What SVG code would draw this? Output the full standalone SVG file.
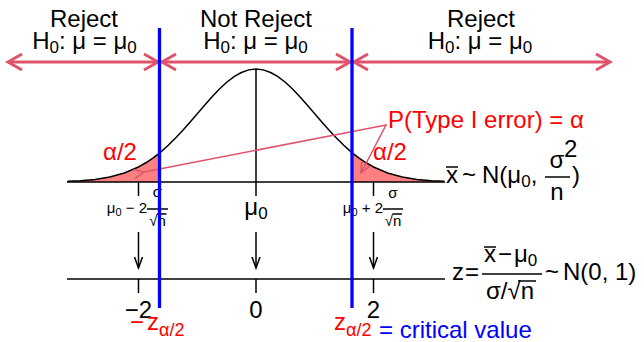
<svg xmlns="http://www.w3.org/2000/svg" width="644" height="342" viewBox="0 0 644 342">
<style>
text{font-family:"Liberation Sans",Arial,Helvetica,sans-serif;font-size:24px;fill:#000}
.red{fill:#FF0000}
.blu{fill:#0000FF}
.sm{font-size:15px}
.ln{stroke:#000;stroke-width:1.5;fill:none}
.arr{stroke:#DF536B;stroke-width:3;fill:none}
.ptr{stroke:#DF536B;stroke-width:1.5;fill:none}
.crit{stroke:#0000FF;stroke-width:3.3}
.tail{fill:#FF8080;stroke:none}
</style>
<defs>
<marker id="hBig" viewBox="-17 -10 20 20" refX="0" refY="0" markerWidth="20" markerHeight="20" markerUnits="userSpaceOnUse" orient="auto-start-reverse">
<path d="M-14,-8 L0,0 L-14,8" fill="none" stroke="#DF536B" stroke-width="3"/>
</marker>
<marker id="hPtr" viewBox="-12 -6 14 12" refX="0" refY="0" markerWidth="14" markerHeight="12" markerUnits="userSpaceOnUse" orient="auto">
<path d="M-10,-4.5 L0,0 L-10,4.5" fill="none" stroke="#DF536B" stroke-width="1.5"/>
</marker>
<marker id="hDown" viewBox="-12 -6 14 12" refX="0" refY="0" markerWidth="14" markerHeight="12" markerUnits="userSpaceOnUse" orient="auto">
<path d="M-11,-4 L0,0 L-11,4" fill="none" stroke="#000" stroke-width="1.5"/>
</marker>
</defs>

<g id="tails">
<path class="tail" d="M67.6,182 L67.6,181.37 L80.5,180.74 L95.12,179.42 L109.75,177.03 L124.37,173.01 L139,166.71 L146.31,162.52 L153.62,157.56 L159.5,152.2 L159.5,182 Z"/>
<path class="tail" d="M352,182 L352,152.6 L358.38,157.56 L365.69,162.52 L373,166.71 L387.63,173.01 L402.25,177.03 L416.88,179.42 L431.5,180.74 L444.4,181.37 L444.4,182 Z"/>
</g>

<g id="curve">
<path class="ln" stroke-linejoin="round" d="M67.6,181.37 L80.5,180.74 L95.12,179.42 L109.75,177.03 L124.37,173.01 L139,166.71 L146.31,162.52 L153.62,157.56 L160.94,151.82 L168.25,145.31 L175.56,138.09 L182.87,130.27 L190.19,121.99 L197.5,113.46 L204.81,104.94 L212.12,96.70 L219.44,89.05 L226.75,82.28 L234.06,76.67 L241.37,72.48 L248.69,69.88 L256,69 L263.31,69.88 L270.63,72.48 L277.94,76.67 L285.25,82.28 L292.56,89.05 L299.88,96.70 L307.19,104.94 L314.5,113.46 L321.81,121.99 L329.13,130.27 L336.44,138.09 L343.75,145.31 L351.06,151.82 L358.38,157.56 L365.69,162.52 L373,166.71 L387.63,173.01 L402.25,177.03 L416.88,179.42 L431.5,180.74 L444.4,181.37"/>
<line class="ln" x1="256" y1="69" x2="256" y2="182"/>
</g>

<g id="xbar-axis">
<line class="ln" x1="67" y1="182" x2="445" y2="182"/>
<line class="ln" x1="138.5" y1="182" x2="138.5" y2="196"/>
<line class="ln" x1="256" y1="182" x2="256" y2="196"/>
<line class="ln" x1="373.5" y1="182" x2="373.5" y2="196"/>
</g>

<g id="z-axis">
<line class="ln" x1="67" y1="279" x2="445" y2="279"/>
<line class="ln" x1="138.5" y1="279" x2="138.5" y2="293"/>
<line class="ln" x1="256" y1="279" x2="256" y2="293"/>
<line class="ln" x1="373.5" y1="279" x2="373.5" y2="293"/>
</g>

<g id="region-labels">
<text x="84" y="27" text-anchor="middle">Reject</text>
<text x="84.5" y="49" text-anchor="middle">H<tspan font-size="17" dy="4">0</tspan><tspan dy="-4">: μ = μ</tspan><tspan font-size="17" dy="4">0</tspan></text>
<text x="256" y="27" text-anchor="middle">Not Reject</text>
<text x="255.5" y="49" text-anchor="middle">H<tspan font-size="17" dy="4">0</tspan><tspan dy="-4">: μ = μ</tspan><tspan font-size="17" dy="4">0</tspan></text>
<text x="481" y="27" text-anchor="middle">Reject</text>
<text x="480" y="49" text-anchor="middle">H<tspan font-size="17" dy="4">0</tspan><tspan dy="-4">: μ = μ</tspan><tspan font-size="17" dy="4">0</tspan></text>
</g>

<g id="alpha-labels">
<text class="red" x="388" y="128">P(Type I error) = α</text>
<text class="red" x="120" y="160" text-anchor="middle" font-size="22">α/2</text>
<text class="red" x="390" y="160" text-anchor="middle" font-size="22">α/2</text>
</g>

<g id="xbar-ticklabels">
<text class="sm" x="147" y="213" text-anchor="end">μ<tspan font-size="11" dy="3">0</tspan><tspan dy="-3"> − 2</tspan></text>
<text class="sm" x="157.5" y="197" text-anchor="middle">σ</text>
<line class="ln" stroke-width="1.2" x1="147" y1="209" x2="168" y2="209"/>
<text class="sm" x="157.5" y="226" text-anchor="middle">√n</text>
<line class="ln" stroke-width="1" x1="157" y1="214" x2="166.5" y2="214"/>
<text x="256" y="215" text-anchor="middle">μ<tspan font-size="17" dy="4">0</tspan></text>
<text class="sm" x="383" y="213" text-anchor="end">μ<tspan font-size="11" dy="3">0</tspan><tspan dy="-3"> + 2</tspan></text>
<text class="sm" x="393" y="198" text-anchor="middle">σ</text>
<line class="ln" stroke-width="1.2" x1="383" y1="209" x2="403" y2="209"/>
<text class="sm" x="393" y="226" text-anchor="middle">√n</text>
<line class="ln" stroke-width="1" x1="392.5" y1="214" x2="402" y2="214"/>
</g>

<g id="xbar-dist">
<text x="446" y="183">x</text>
<line class="ln" x1="446" y1="167" x2="458" y2="167"/>
<text x="462" y="183">~</text>
<text x="482" y="183">N(μ<tspan font-size="17" dy="4">0</tspan><tspan dy="-4">,</tspan></text>
<text x="557" y="168" text-anchor="middle">σ</text>
<text x="564" y="157" font-size="14">2</text>
<line class="ln" x1="545" y1="177" x2="570" y2="177"/>
<text x="557" y="200" text-anchor="middle">n</text>
<text x="572" y="183">)</text>
</g>

<g id="z-ticklabels">
<text x="138.5" y="318" text-anchor="middle">−2</text>
<text x="256" y="318" text-anchor="middle">0</text>
<text x="373.5" y="318" text-anchor="middle">2</text>
</g>

<g id="z-dist">
<text x="452" y="280">z</text>
<text x="465" y="280">=</text>
<text x="484" y="262">x</text>
<line class="ln" x1="484" y1="247" x2="496" y2="247"/>
<text x="498" y="262">−</text>
<text x="514" y="262">μ<tspan font-size="17" dy="4">0</tspan></text>
<line class="ln" x1="482" y1="274" x2="542" y2="274"/>
<text x="486" y="299">σ/√n</text>
<line class="ln" stroke-width="1.2" x1="518" y1="281" x2="536" y2="281"/>
<text x="545" y="280">~</text>
<text x="563" y="280">N(0, 1)</text>
</g>

<g id="critical-labels">
<text class="red" x="130" y="330">−</text>
<text class="red" x="147" y="330">z<tspan font-size="18" dy="6">α/2</tspan></text>
<text class="red" x="334" y="330">z<tspan font-size="18" dy="6">α/2</tspan></text>
<text class="blu" x="379" y="338">= critical value</text>
</g>

<g id="connectors">
<line class="arr" x1="8" y1="62" x2="158" y2="62" marker-start="url(#hBig)" marker-end="url(#hBig)"/>
<line class="arr" x1="162" y1="62" x2="350" y2="62" marker-start="url(#hBig)" marker-end="url(#hBig)"/>
<line class="arr" x1="354" y1="62" x2="610" y2="62" marker-start="url(#hBig)" marker-end="url(#hBig)"/>
<polyline class="ptr" points="144,172 386,125 361,173" marker-start="url(#hPtr)" marker-end="url(#hPtr)"/>
<line class="ln" x1="138.5" y1="232" x2="138.5" y2="268" marker-end="url(#hDown)"/>
<line class="ln" x1="256" y1="232" x2="256" y2="268" marker-end="url(#hDown)"/>
<line class="ln" x1="373.5" y1="232" x2="373.5" y2="268" marker-end="url(#hDown)"/>
</g>

<g id="critical-lines">
<line class="crit" x1="159.5" y1="28" x2="159.5" y2="308"/>
<line class="crit" x1="352" y1="28" x2="352" y2="308"/>
</g>
</svg>
